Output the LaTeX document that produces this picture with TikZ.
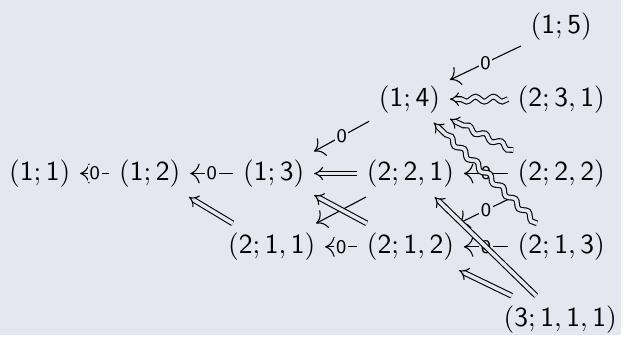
\documentclass[tikz,border=0pt]{standalone}
\usetikzlibrary{arrows.meta, decorations.pathmorphing}
\definecolor{bgcol}{RGB}{230,230,240}
\newcommand{\tup}[1]{$\mathsf{(#1)}$}

\begin{document}
\begin{tikzpicture}[x=0.36pt, y=-0.36pt,
  zero/.style={-{Computer Modern Rightarrow[scale=1.4]}},
  lbl/.style={font=\sffamily\scriptsize, fill=bgcol, inner sep=0.6pt},
  imp/.style={double=bgcol, double distance=1.3pt, -{Implies}},
  sq/.style={imp, decorate, decoration={snake, amplitude=0.9pt, segment length=6.5pt, post length=4pt}}]
\fill[bgcol] (0,0) rectangle (626,338);
\node (n15) at (566,27) {\tup{1;5}};
\node (n14) at (413,100) {\tup{1;4}};
\node (n231) at (566,100) {\tup{2;3,1}};
\node (n11) at (40,175) {\tup{1;1}};
\node (n12) at (151,175) {\tup{1;2}};
\node (n13) at (276,175) {\tup{1;3}};
\node (n221) at (414,175) {\tup{2;2,1}};
\node (n222) at (566,175) {\tup{2;2,2}};
\node (n211) at (274,249) {\tup{2;1,1}};
\node (n212) at (414,249) {\tup{2;1,2}};
\node (n213) at (566,249) {\tup{2;1,3}};
\node (n3111) at (565,322) {\tup{3;1,1,1}};
\draw[zero] (n15) -- node[lbl] {0} (n14);
\draw[zero] (n14) -- node[lbl] {0} (n13);
\draw[zero] (n13) -- node[lbl] {0} (n12);
\draw[zero] (n12) -- node[lbl] {0} (n11);
\draw[zero] (n222) -- node[lbl] {0} (n221);
\draw[zero] (n222) -- node[lbl] {0} (n212);
\draw[zero] (n213) -- node[lbl] {0} (n212);
\draw[zero] (n212) -- node[lbl] {0} (n211);
\draw[zero] (n221) -- (n211);
\draw[imp] (n221) -- (n13);
\draw[imp] (n211) -- (n12);
\draw[imp] (n212) -- (n13);
\draw[imp] (n3111) -- (n221);
\draw[imp] (n3111) -- (n212);
\draw[sq] (n231) -- (n14);
\draw[sq] (n222) -- (n14);
\draw[sq] (n213) -- (n14);
\end{tikzpicture}
\end{document}
